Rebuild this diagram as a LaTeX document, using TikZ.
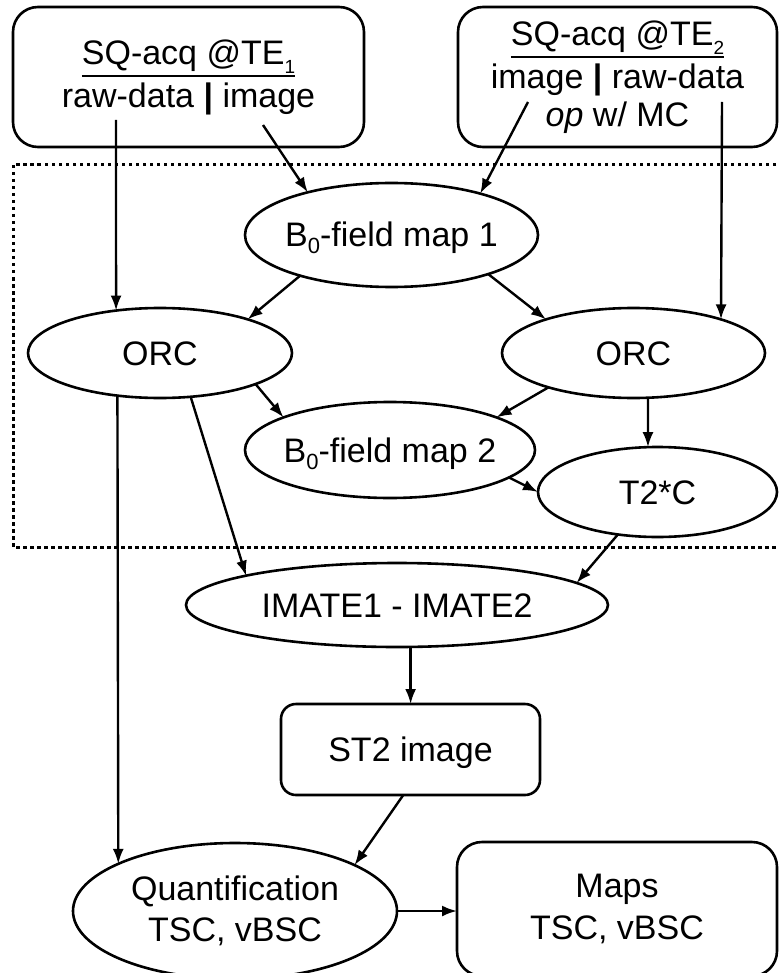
\documentclass[tikz,border=0pt]{standalone}
\usepackage{fontspec}
\setmainfont{Liberation Sans}
\usetikzlibrary{shapes.geometric,arrows.meta}

% small lowered digits
\newcommand\bsub[1]{\raisebox{-7pt}{\fontsize{22}{22}\selectfont #1}}
\newcommand\tsub[1]{\raisebox{-9pt}{\fontsize{19}{19}\selectfont #1}}
% underline at a fixed depth below the baseline
\newcommand\undl[1]{\setbox0=\hbox{#1}\rlap{\rule[-13pt]{\wd0}{2.2pt}}\box0}
% zero-width text so that the ellipse keeps its given size
\newcommand\ctr[1]{\makebox[0pt]{#1}}

\begin{document}
\begin{tikzpicture}[x=1pt,y=-1pt,
  font=\fontsize{34}{43}\selectfont,
  shapeline/.style={draw=black,line width=2.6pt},
  oval/.style={shapeline,ellipse,inner sep=0pt,outer sep=0pt,text height=24pt,text depth=0pt},
  srcbox/.style={shapeline,rectangle,rounded corners=25pt,inner sep=0pt,outer sep=0pt,align=center},
  flow/.style={line width=2.4pt,-{Latex[length=15pt,width=11pt]}},
  dotframe/.style={line width=3pt,dash pattern=on 3.5pt off 3.5pt}]

\fill[white] (0,0) rectangle (778,973);
\useasboundingbox (0,0) rectangle (778,973);

% processing block framed by a dotted line
\draw[dotframe] (13,165) rectangle (800,547);

% acquisitions
\node[srcbox,minimum width=351pt,minimum height=140pt] (src1) at (188.5,77)
  {\undl{SQ-acq @TE\tsub{1}}\\raw-data \textbf{|} image};
\node[srcbox,minimum width=319pt,minimum height=140pt] (src2) at (617.5,77)
  {\undl{SQ-acq @TE\tsub{2}}\\image \textbf{|} raw-data\\[-5pt]\textit{op} w/ MC};

% processing steps
\node[oval,minimum width=293pt,minimum height=104pt] (b1) at (391.5,235) {\ctr{B\bsub{0}-field map 1}};
\node[oval,minimum width=264pt,minimum height=90pt] (orcL) at (160,353) {ORC};
\node[oval,minimum width=263pt,minimum height=90pt] (orcR) at (633.5,353) {ORC};
\node[oval,minimum width=290pt,minimum height=96pt] (b2) at (390,450) {\ctr{B\bsub{0}-field map 2}};
\node[oval,minimum width=239pt,minimum height=90pt] (t2c) at (657.5,492) {T2*C};
\node[oval,minimum width=422pt,minimum height=84pt] (imate) at (397,605) {IMATE1 - IMATE2};
\node[shapeline,rectangle,rounded corners=15pt,inner sep=0pt,outer sep=0pt,
  minimum width=259pt,minimum height=91pt,text height=24pt,text depth=0pt] (st2) at (410.5,749.5) {ST2 image};
\node[shapeline,ellipse,inner sep=0pt,outer sep=0pt,align=center,
  minimum width=324pt,minimum height=136pt] (quant) at (235,911) {Quantification\\[-2pt]TSC, vBSC};
\node[srcbox,minimum width=320pt,minimum height=134pt] (maps) at (617,909) {Maps\\[-1pt]TSC, vBSC};

% start points of the arrows inside the acquisition boxes
\coordinate (s1a) at (116,120);
\coordinate (s1b) at (263,125);
\coordinate (s2a) at (528,102);
\coordinate (s2b) at (722,102);

% connectors
\draw[flow] (s1a) -- (orcL.136);
\draw[flow] (s1b) -- (b1.153);
\draw[flow] (s2a) -- (b1.25);
\draw[flow] (s2b) -- (orcR.21);
\draw[flow] (b1.204) -- (orcL.21);
\draw[flow] (b1.338) -- (orcR.159);
\draw[flow] (orcL.342) -- (b2.163);
\draw[flow] (orcR.202) -- (b2.17);
\draw[flow] (orcR.288) -- (t2c.102);
\draw[flow] (b2.347) -- (t2c.180);
\draw[flow] (orcL.225) -- (quant.158);
\draw[flow] (orcL.305) -- (imate.169);
\draw[flow] (t2c.227) -- (imate.7);
\draw[flow] (imate.288) -- (imate.288 |- st2.north);
\draw[flow] (st2.261) -- (quant.21);
\draw[flow] (quant.east) -- (quant.east -| maps.west);
\end{tikzpicture}
\end{document}
